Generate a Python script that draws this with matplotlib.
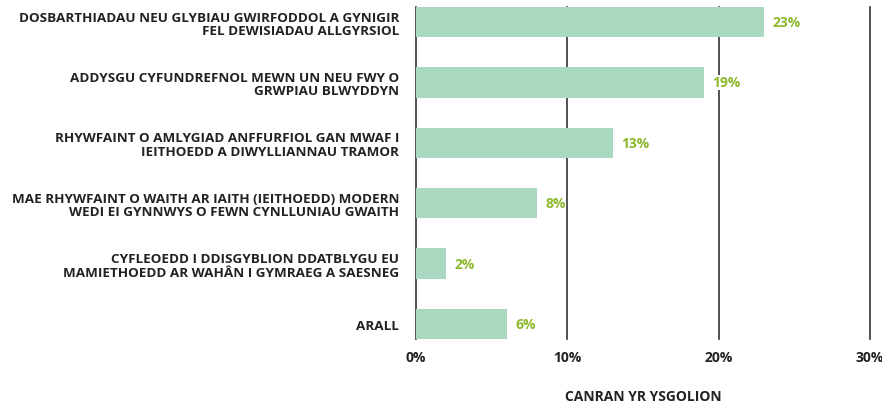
import matplotlib
matplotlib.use("Agg")
import matplotlib.pyplot as plt

categories = [
    "DOSBARTHIADAU NEU GLYBIAU GWIRFODDOL A GYNIGIR\nFEL DEWISIADAU ALLGYRSIOL",
    "ADDYSGU CYFUNDREFNOL MEWN UN NEU FWY O\nGRWPIAU BLWYDDYN",
    "RHYWFAINT O AMLYGIAD ANFFURFIOL GAN MWAF I\nIEITHOEDD A DIWYLLIANNAU TRAMOR",
    "MAE RHYWFAINT O WAITH AR IAITH (IEITHOEDD) MODERN\nWEDI EI GYNNWYS O FEWN CYNLLUNIAU GWAITH",
    "CYFLEOEDD I DDISGYBLION DDATBLYGU EU\nMAMIETHOEDD AR WAHÂN I GYMRAEG A SAESNEG",
    "ARALL",
]
values = [23, 19, 13, 8, 2, 6]
xticks = [0, 10, 20, 30]
xtick_labels = ["0%", "10%", "20%", "30%"]
xlabel = "CANRAN YR YSGOLION"

plt.rcParams['font.family'] = ['Open Sans', 'DejaVu Sans']

fig = plt.figure(figsize=(8.82, 4.10), dpi=100)
ax = fig.add_axes([416/882, 1-340/410, (870-416)/882, (340-8)/410])

y = list(range(len(categories)))
ax.barh(y, values, height=0.5, color="#abd8c0", zorder=3)
for yi, v in zip(y, values):
    ax.annotate(f"{v}%", (v, yi), xytext=(6, 0), textcoords="offset points",
                va="center", ha="left", color="#8cb82c", fontsize=10,
                fontweight="bold", zorder=5,
                bbox=dict(boxstyle="square,pad=0.05", fc="white", ec="none"))

ax.set_xlim(0, 30)
ax.set_ylim(5.25, -0.25)
ax.set_xticks(xticks)
ax.set_xticklabels(xtick_labels, fontsize=10, fontweight="bold", color="#222222")
ax.set_yticks(y)
ax.set_yticklabels(categories, fontsize=9.7, fontweight="bold", color="#222222", linespacing=1.05)
ax.tick_params(axis="both", length=0)
ax.tick_params(axis="y", pad=12)
ax.tick_params(axis="x", pad=8)
for s in ax.spines.values():
    s.set_visible(False)
ax.grid(axis="x", color="#333333", linewidth=1.2, zorder=1)
for gl in ax.get_xgridlines():
    gl.set_clip_on(False)
ax.set_axisbelow(True)
ax.set_xlabel(xlabel, fontsize=10, fontweight="bold", color="#222222", labelpad=18)

fig.savefig("out.png", dpi=100)
